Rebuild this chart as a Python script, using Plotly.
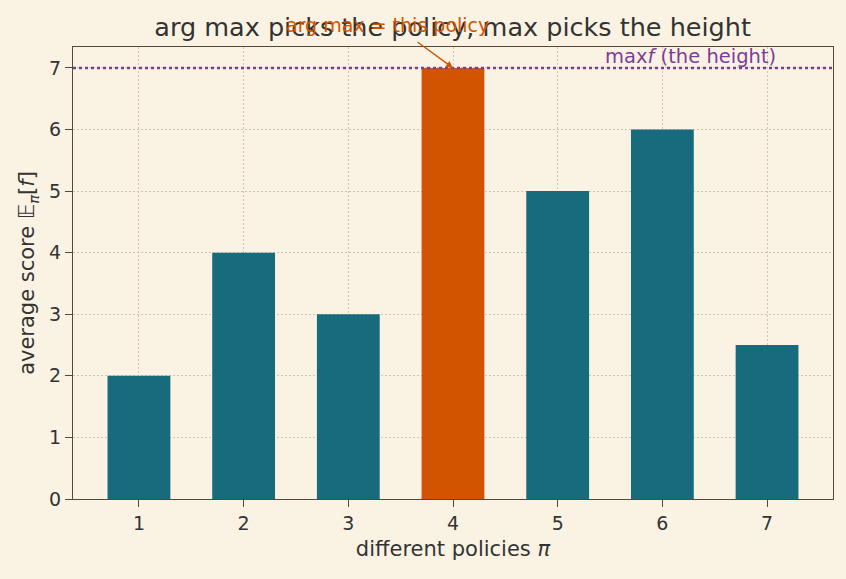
import plotly.graph_objects as go

policies = [1, 2, 3, 4, 5, 6, 7]
scores = [2, 4, 3, 7, 5, 6, 2.5]
best_index = 3
tick_labels = ["1", "2", "3", "4", "5", "6", "7"]

teal = "#186B7C"
orange = "#D35400"
purple = "#7D3C98"
bg = "#FAF3E3"
ink = "#333333"
frame = "#54483A"
colors = [orange if i == best_index else teal for i in range(len(policies))]

fig = go.Figure()
fig.add_trace(go.Bar(x=policies, y=scores, width=0.6, marker=dict(color=colors, line=dict(width=0)),
                     showlegend=False))

max_val = max(scores)
fig.add_shape(type="line", xref="paper", x0=0, x1=1, yref="y", y0=max_val, y1=max_val,
              line=dict(color=purple, width=2.5, dash="dot"))

# arrow
fig.add_annotation(x=policies[best_index], y=max_val, xref="x", yref="y",
                   text="", showarrow=True, arrowhead=2, arrowsize=1,
                   arrowwidth=1.4, arrowcolor=orange, ax=-37, ay=-27)
# arrow label
fig.add_annotation(x=0.414, y=1.049, xref="paper", yref="paper",
                   text="arg max = this policy", showarrow=False,
                   font=dict(color=orange, size=19, family="DejaVu Sans"),
                   xanchor="center", yanchor="middle")
fig.add_annotation(x=0.927, xref="paper", y=max_val, yref="y", text="max<i>f</i> (the height)",
                   showarrow=False, xanchor="right", yanchor="bottom", yshift=-2,
                   font=dict(color=purple, size=19.5, family="DejaVu Sans"))

axis_common = dict(showline=True, linecolor=frame, linewidth=1.3, mirror=True,
                   ticks="outside", ticklen=7, tickcolor=frame, tickwidth=1.3,
                   showgrid=True, gridcolor="#CDC4B4", griddash="2px,2px", gridwidth=1,
                   zeroline=False, layer="above traces",
                   tickfont=dict(size=19, color=ink, family="DejaVu Sans"))

fig.update_layout(
    width=846, height=579,
    paper_bgcolor=bg, plot_bgcolor=bg,
    margin=dict(l=73, r=13, t=47, b=80),
    font=dict(family="DejaVu Sans", color=ink),
    title=dict(text="arg max picks the policy, max picks the height", x=0.535, xanchor="center",
               y=0.953, yanchor="middle", font=dict(size=25.5, color=ink, family="DejaVu Sans")),
    xaxis=dict(range=[0.37, 7.63], tickvals=policies, ticktext=tick_labels,
               title=dict(text="different policies <i>π</i>", font=dict(size=21, color=ink), standoff=8),
               **axis_common),
    yaxis=dict(range=[0, 7.34], tickvals=[0, 1, 2, 3, 4, 5, 6, 7],
               title=dict(text="average score 𝔼<sub><i>π</i></sub>[<i>f</i>]", font=dict(size=21, color=ink), standoff=8),
               **axis_common),
    bargap=0.4,
)

fig.write_html("out.html")
